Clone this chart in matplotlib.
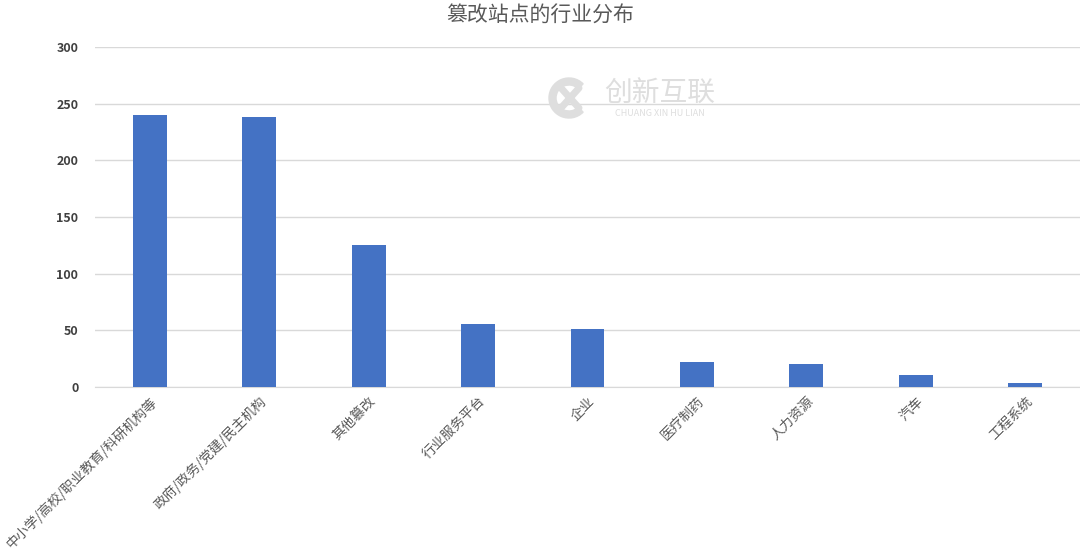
import matplotlib
matplotlib.use("Agg")
import matplotlib.pyplot as plt
from matplotlib.patches import Wedge
from matplotlib.lines import Line2D

plt.rcParams['font.family'] = ['Noto Sans CJK SC', 'DejaVu Sans']

categories = ["中小学/高校/职业教育/科研机构等", "政府/政务/党建/民主机构", "其他篡改", "行业服务平台",
              "企业", "医疗制药", "人力资源", "汽车", "工程系统"]
values = [240, 238, 125, 56, 51, 22, 20, 11, 4]
yticks = [0, 50, 100, 150, 200, 250, 300]
title = "篡改站点的行业分布"

fig = plt.figure(figsize=(10.8, 5.53), dpi=100)
ax = fig.add_axes([0.088, 0.300, 0.912, 0.615])

x = list(range(len(categories)))
ax.bar(x, values, width=0.31, color="#4472C4", zorder=3)
ax.set_xlim(-0.5, len(categories) - 0.5)
ax.set_ylim(0, 300)
ax.set_yticks(yticks)
ax.set_yticklabels([str(t) for t in yticks], fontsize=9, fontweight='bold', color="#404040")
ax.grid(axis='y', color="#d9d9d9", linewidth=1, zorder=0)
for s in ['top', 'right', 'left']:
    ax.spines[s].set_visible(False)
ax.spines['bottom'].set_color("#d9d9d9")
ax.tick_params(axis='both', length=0)
ax.tick_params(axis='y', pad=12)
ax.set_xticks(x)
ax.set_xticklabels(categories, rotation=45, ha='right', rotation_mode='anchor',
                   fontsize=9.8, color="#595959")
ax.tick_params(axis='x', pad=5)

fig.text(0.5, 0.972, title, ha='center', va='center', fontsize=15, color="#595959")

# watermark logo (decorative)
wm = "#dedede"
tr = fig.dpi_scale_trans
fig.add_artist(Wedge((5.69, 4.55), 0.20, 45, 315, width=0.07, color=wm, transform=tr))
fig.add_artist(Line2D([5.61, 5.79], [4.45, 4.65], color=wm, lw=5, transform=tr, solid_capstyle='round'))
fig.add_artist(Line2D([5.61, 5.79], [4.65, 4.45], color=wm, lw=5, transform=tr, solid_capstyle='round'))
fig.text(0.611, 0.83, "创新互联", ha='center', va='center', fontsize=20, color=wm)
fig.text(0.611, 0.794, "CHUANG XIN HU LIAN", ha='center', va='center', fontsize=6.5, color=wm)

fig.savefig("out.png", dpi=100)
